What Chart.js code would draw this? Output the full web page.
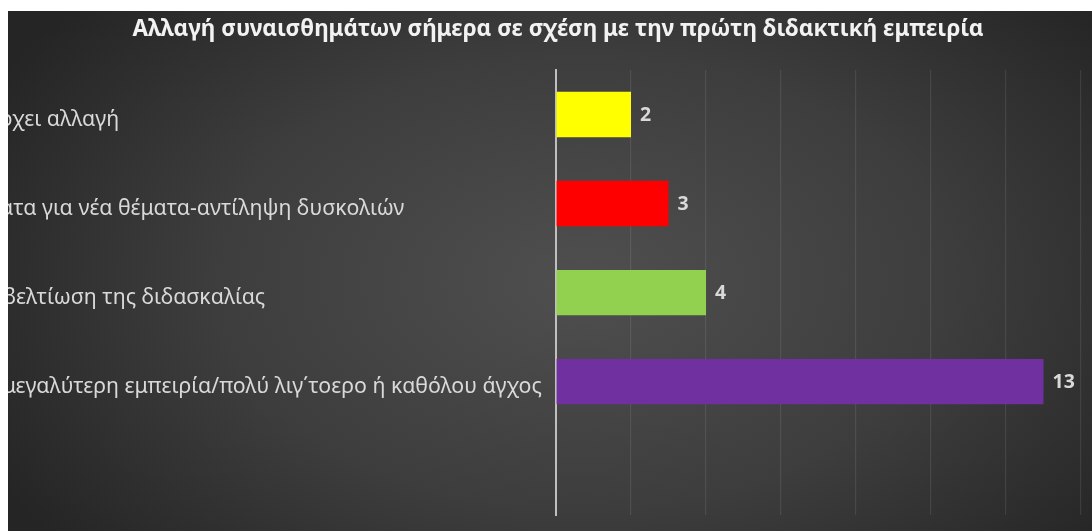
<!DOCTYPE html>
<html lang="el">
<head>
<meta charset="utf-8">
<title>Αλλαγή συναισθημάτων</title>
<script src="https://cdn.jsdelivr.net/npm/chart.js@4/dist/chart.umd.min.js"></script>
<style>
  html, body { margin: 0; padding: 0; background: #ffffff; }
  body { width: 1092px; height: 531px; position: relative; overflow: hidden; }
  /* σκούρο φόντο με ακτινική διαβάθμιση */
  .chart-box {
    position: absolute; left: 8px; top: 11px; width: 1084px; height: 520px;
    overflow: hidden;
    background: radial-gradient(ellipse 62% 80% at 53% 52%, #4f4f4f 0%, #3d3d3d 55%, #252525 100%);
  }
  .chart-wrap { position: absolute; left: -88px; top: 0; width: 1276px; height: 520px; }
</style>
</head>
<body>
<div class="chart-box">
  <div class="chart-wrap"><canvas id="myChart"></canvas></div>
</div>
<script>
const chartTitle = "Αλλαγή συναισθημάτων σήμερα σε σχέση με την πρώτη διδακτική εμπειρία";

// κατηγορίες (η τελευταία κενή, όπως στο αρχικό διάγραμμα)
const categories = [
    "Δεν υπάρχει αλλαγή",
    "Ερεθίσματα για νέα θέματα-αντίληψη δυσκολιών",
    "Μεγάλη βελτίωση της διδασκαλίας",
    "Ηρεμία, μεγαλύτερη εμπειρία/πολύ λιγ΄τοερο ή καθόλου άγχος",
    ""
];
const counts = [2, 3, 4, 13, null];
const barColors = ["#FFFF00", "#FF0000", "#92D050", "#7030A0", "#000000"];

const axisMax = 14;
const axisStep = 2;

const labelFont = "'Noto Sans', 'Open Sans', sans-serif";

// τιμές δίπλα σε κάθε μπάρα
const valueLabels = {
    id: "valueLabels",
    afterDatasetsDraw(chart) {
        const ctx = chart.ctx;
        const meta = chart.getDatasetMeta(0);
        ctx.save();
        ctx.font = "bold 19.5px " + labelFont;
        ctx.fillStyle = "#d9d9d9";
        ctx.textAlign = "left";
        ctx.textBaseline = "middle";
        meta.data.forEach((bar, i) => {
            const v = chart.data.datasets[0].data[i];
            if (v === null || v === undefined) return;
            ctx.fillText(String(v), bar.x + 9, bar.y + 1);
        });
        ctx.restore();
    }
};

const ctx = document.getElementById("myChart").getContext("2d");

new Chart(ctx, {
    type: "bar",
    data: {
        labels: categories,
        datasets: [{
            data: counts,
            backgroundColor: barColors,
            borderWidth: 0,
            categoryPercentage: 1,
            barPercentage: 0.51
        }]
    },
    options: {
        indexAxis: "y",
        responsive: true,
        maintainAspectRatio: false,
        animation: false,
        layout: { padding: { left: 0, right: 0, top: 0, bottom: 14 } },
        scales: {
            x: {
                min: 0,
                max: axisMax,
                ticks: { display: false, stepSize: axisStep },
                grid: { color: "rgba(255,255,255,0.09)", lineWidth: 1.2, drawTicks: false },
                border: { display: false }
            },
            y: {
                grid: { display: false, drawTicks: false },
                border: { display: true, color: "#bfbfbf", width: 2 },
                ticks: {
                    autoSkip: false,
                    crossAlign: "far",
                    labelOffset: 5,
                    color: "#d9d9d9",
                    font: { family: labelFont, size: 21.3 }
                },
                afterFit(scale) { scale.width = 636; }
            },
            // κενός άξονας δεξιά, κρατά χώρο ώστε ο τίτλος να κεντράρεται
            yRight: {
                type: "category",
                position: "right",
                grid: { display: false, drawTicks: false },
                border: { display: false },
                ticks: { display: false },
                afterFit(scale) { scale.width = 115; }
            }
        },
        plugins: {
            legend: { display: false },
            tooltip: { enabled: false },
            title: {
                display: true,
                text: chartTitle,
                color: "#f2f2f2",
                font: { family: labelFont, size: 22.5, weight: "bold" },
                padding: { top: 5.5, bottom: 26.5 }
            }
        }
    },
    plugins: [valueLabels]
});
</script>
</body>
</html>
